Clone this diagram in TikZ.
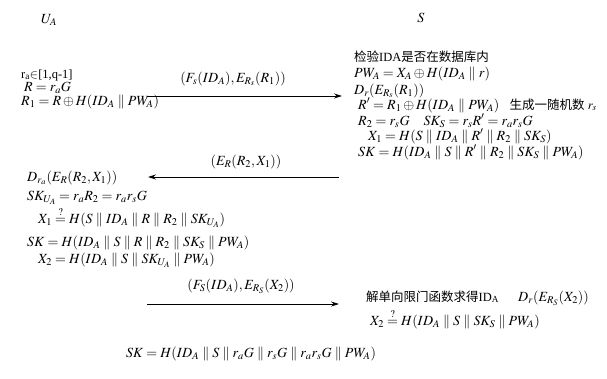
\documentclass[tikz,border=0pt]{standalone}
\usepackage{mathptmx}
\usepackage{fontspec}
\setmainfont{Liberation Serif}
\newfontfamily\cjk{Noto Sans CJK SC}
\usetikzlibrary{arrows.meta}
\tikzset{
  txt/.style={anchor=base west, inner sep=0pt, font=\fontsize{14}{16}\selectfont},
  cjktxt/.style={anchor=base west, inner sep=0pt, font=\fontsize{12.5}{15}\selectfont},
  msg/.style={-{Stealth[length=8pt,width=5pt]}, line width=0.8pt},
  lbl/.style={anchor=base, inner sep=0pt, font=\fontsize{14}{16}\selectfont},
}
\newcommand{\qeq}{\stackrel{?}{=}}
\newcommand{\cc}{\;\|\;}
\begin{document}
\begin{tikzpicture}[x=1pt,y=-1pt]
\useasboundingbox (0,0) rectangle (607,378);
% parties
\node[lbl] (ua) at (49,23) {$U_A$};
\node[lbl] (s) at (421,22) {$S$};
% left block 1
\node[cjktxt] (l1) at (21,78) {r\textsubscript{a}$\in$[1,q-1]};
\node[txt] (l2) at (24,91) {$R=r_aG$};
\node[txt] (l3) at (21,105) {$R_1=R\oplus H(ID_A\cc PW_A)$};
% arrow 1
\coordinate (a1s) at (147,96);
\coordinate (a1e) at (342,96);
\draw[msg] (a1s) -- (a1e);
\node[lbl] (m1) at (233,82) {$(F_s(ID_A),E_{R_s}(R_1))$};
% right block 1
\node[cjktxt] (r1) at (354,61) {{\cjk 检验}IDA{\cjk 是否在数据库内}};
\node[txt] (r2) at (354,77) {$PW_A=X_A\oplus H(ID_A\cc r)$};
\node[txt] (r3) at (354,94) {$D_r(E_{R_s}(R_1))$};
\node[txt] (r4) at (358,109) {$R'=R_1\oplus H(ID_A\cc PW_A)$};
\node[cjktxt] (r4b) at (r4.base east) [xshift=10pt] {{\cjk 生成一随机数} $r_s$};
\node[txt] (r5) at (358,125) {$R_2=r_sG\quad SK_S=r_sR'=r_ar_sG$};
\node[txt] (r6) at (368,140) {$X_1=H(S\cc ID_A\cc R'\cc R_2\cc SK_S)$};
\node[txt] (r7) at (358,156) {$SK=H(ID_A\cc S\cc R'\cc R_2\cc SK_S\cc PW_A)$};
% arrow 2
\coordinate (a2s) at (339,177);
\coordinate (a2e) at (148,177);
\draw[msg] (a2s) -- (a2e);
\node[lbl] (m2) at (246,165) {$(E_R(R_2,X_1))$};
% left block 2
\node[txt] (b1) at (27,181) {$D_{r_a}(E_R(R_2,X_1))$};
\node[txt] (b2) at (27,200) {$SK_{U_A}=r_aR_2=r_ar_sG$};
\node[txt] (b3) at (38,223) {$X_1\qeq H(S\cc ID_A\cc R\cc R_2\cc SK_{U_A})$};
\node[txt] (b4) at (27,246) {$SK=H(ID_A\cc S\cc R\cc R_2\cc SK_S\cc PW_A)$};
\node[txt] (b5) at (38,263) {$X_2=H(ID_A\cc S\cc SK_{U_A}\cc PW_A)$};
% arrow 3
\coordinate (a3s) at (147,304);
\coordinate (a3e) at (339,304);
\draw[msg] (a3s) -- (a3e);
\node[lbl] (m3) at (241,289) {$(F_S(ID_A),E_{R_S}(X_2))$};
% right block 2
\node[cjktxt] (c1) at (366,301) {{\cjk 解单向限门函数求得}ID\textsubscript{A}};
\node[txt] (c1b) at (518,301) {$D_r(E_{R_S}(X_2))$};
\node[txt] (c2) at (370,325) {$X_2\qeq H(ID_A\cc S\cc SK_S\cc PW_A)$};
% final
\node[lbl] (f) at (251,357) {$SK=H(ID_A\cc S\cc r_aG\cc r_sG\cc r_ar_sG\cc PW_A)$};
\end{tikzpicture}
\end{document}
